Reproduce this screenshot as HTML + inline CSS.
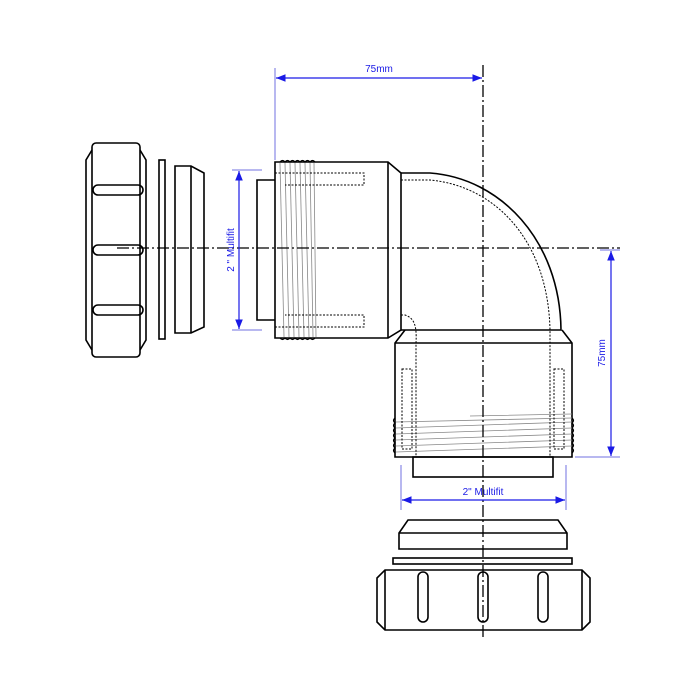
<!DOCTYPE html>
<html><head><meta charset="utf-8"><style>html,body{margin:0;padding:0;background:#fff}svg{display:block}</style></head>
<body>
<svg width="700" height="700" viewBox="0 0 700 700" xmlns="http://www.w3.org/2000/svg">
<defs>
<marker id="a" viewBox="0 0 10 10" refX="10" refY="5" markerWidth="8" markerHeight="8" orient="auto-start-reverse"><path d="M0,1 L10,5 L0,9 z" fill="#1a1ae6"/></marker>
</defs>
<g fill="none" stroke="#000" stroke-width="1.6">
<!-- left nut -->
<path d="M92,150 L86,160 L86,340 L92,350"/>
<path d="M140,150 L146,160 L146,340 L140,350"/>
<rect x="92" y="143" width="48" height="214" rx="4"/>
<rect x="93" y="185" width="50" height="10" rx="5"/>
<rect x="93" y="245" width="50" height="10" rx="5"/>
<rect x="93" y="305" width="50" height="10" rx="5"/>
<!-- washer -->
<rect x="159" y="160" width="6" height="179"/>
<!-- seal -->
<path d="M175,166 L191,166 L204,173 L204,327 L191,333 L175,333 Z"/>
<line x1="191" y1="166" x2="191" y2="333"/>
<!-- spigot -->
<path d="M275,180 L257,180 L257,320 L275,320"/>
<!-- threaded body -->
<path d="M275,162 L388,162 L401,173 L401,330 L388,338 L275,338 Z"/>
<line x1="388" y1="162" x2="388" y2="338"/>
<!-- elbow -->
<path d="M401,173 L430,173 C500,178 560,240 561,330 L401,330"/>
<path d="M405,330 L395,343 L395,457 L572,457 L572,343 L562,330"/>
<line x1="395" y1="343" x2="572" y2="343"/>
<rect x="413" y="457" width="140" height="20"/>
<!-- bottom seal -->
<path d="M408,520 L558,520 L567,533 L567,549 L399,549 L399,533 Z"/>
<line x1="399" y1="533" x2="567" y2="533"/>
<rect x="393" y="558" width="179" height="6"/>
<!-- bottom nut -->
<path d="M385,570 L582,570 L590,578 L590,622 L582,630 L385,630 L377,622 L377,578 Z"/>
<line x1="385" y1="570" x2="385" y2="630"/><line x1="582" y1="570" x2="582" y2="630"/>
<rect x="418" y="572" width="10" height="50" rx="5"/>
<rect x="478" y="572" width="10" height="50" rx="5"/>
<rect x="538" y="572" width="10" height="50" rx="5"/>
</g>
<!-- thread scallops -->
<g fill="none" stroke="#000" stroke-width="1.2">
<path d="M280,162 q2.5,-3 5,0 q2.5,-3 5,0 q2.5,-3 5,0 q2.5,-3 5,0 q2.5,-3 5,0 q2.5,-3 5,0 q2.5,-3 5,0"/>
<path d="M280,338 q2.5,3 5,0 q2.5,3 5,0 q2.5,3 5,0 q2.5,3 5,0 q2.5,3 5,0 q2.5,3 5,0 q2.5,3 5,0"/>
<path d="M395,418 q-3,2.5 0,5 q-3,2.5 0,5 q-3,2.5 0,5 q-3,2.5 0,5 q-3,2.5 0,5 q-3,2.5 0,5 q-3,2.5 0,5"/>
<path d="M572,418 q3,2.5 0,5 q3,2.5 0,5 q3,2.5 0,5 q3,2.5 0,5 q3,2.5 0,5 q3,2.5 0,5 q3,2.5 0,5"/>
</g>
<!-- threads -->
<g stroke="#888" stroke-width="0.8" fill="none">
<path d="M280,163 L284,337 M285,163 L289,337 M290,163 L294,337 M295,163 L299,337 M300,163 L304,337 M305,163 L309,337 M310,163 L313,337 M314,163 L316,337"/>
<path d="M396,422 L572,418 M396,428 L572,422 M396,434 L572,428 M396,440 L572,434 M396,446 L572,440 M396,452 L572,446 M470,416 L572,414"/>
</g>
<!-- hidden lines -->
<g stroke="#000" stroke-width="1" fill="none" stroke-dasharray="2,1.5">
<path d="M275,173 L364,173 L364,185 L285,185"/>
<path d="M275,327 L364,327 L364,315 L285,315"/>
<path d="M401,180 L430,180 C495,186 548,240 550,330 L550,457"/>
<path d="M401,315 L405,315 C414,318 417,325 416,343 L416,457"/>
<rect x="402" y="369" width="10" height="80"/>
<rect x="554" y="369" width="10" height="80"/>
</g>
<!-- center lines -->
<g stroke="#000" stroke-width="1.3" stroke-dasharray="12,3,2,3" fill="none">
<line x1="117" y1="248" x2="620" y2="248"/>
<line x1="483" y1="65" x2="483" y2="640"/>
</g>
<!-- dimensions -->
<g stroke="#7070e0" stroke-width="1" fill="none">
<line x1="275" y1="68" x2="275" y2="160"/>
<line x1="232" y1="170" x2="262" y2="170"/><line x1="232" y1="330" x2="262" y2="330"/>
<line x1="575" y1="457" x2="620" y2="457"/><line x1="600" y1="250" x2="620" y2="250"/>
<line x1="401" y1="465" x2="401" y2="510"/><line x1="566" y1="465" x2="566" y2="510"/>
</g>
<g stroke="#1a1ae6" stroke-width="1.2" fill="none">
<line x1="276" y1="78" x2="482" y2="78" marker-start="url(#a)" marker-end="url(#a)"/>
<line x1="239" y1="171" x2="239" y2="329" marker-start="url(#a)" marker-end="url(#a)"/>
<line x1="611" y1="251" x2="611" y2="456" marker-start="url(#a)" marker-end="url(#a)"/>
<line x1="402" y1="500" x2="565" y2="500" marker-start="url(#a)" marker-end="url(#a)"/>
</g>
<g fill="#1a1ae6" font-family="Liberation Sans, sans-serif" font-size="10">
<text x="379" y="72" text-anchor="middle">75mm</text>
<text x="483" y="495" text-anchor="middle">2" Multifit</text>
<text transform="translate(234,250) rotate(-90)" text-anchor="middle">2 " Multifit</text>
<text transform="translate(605,353) rotate(-90)" text-anchor="middle">75mm</text>
</g>
</svg>
</body></html>
